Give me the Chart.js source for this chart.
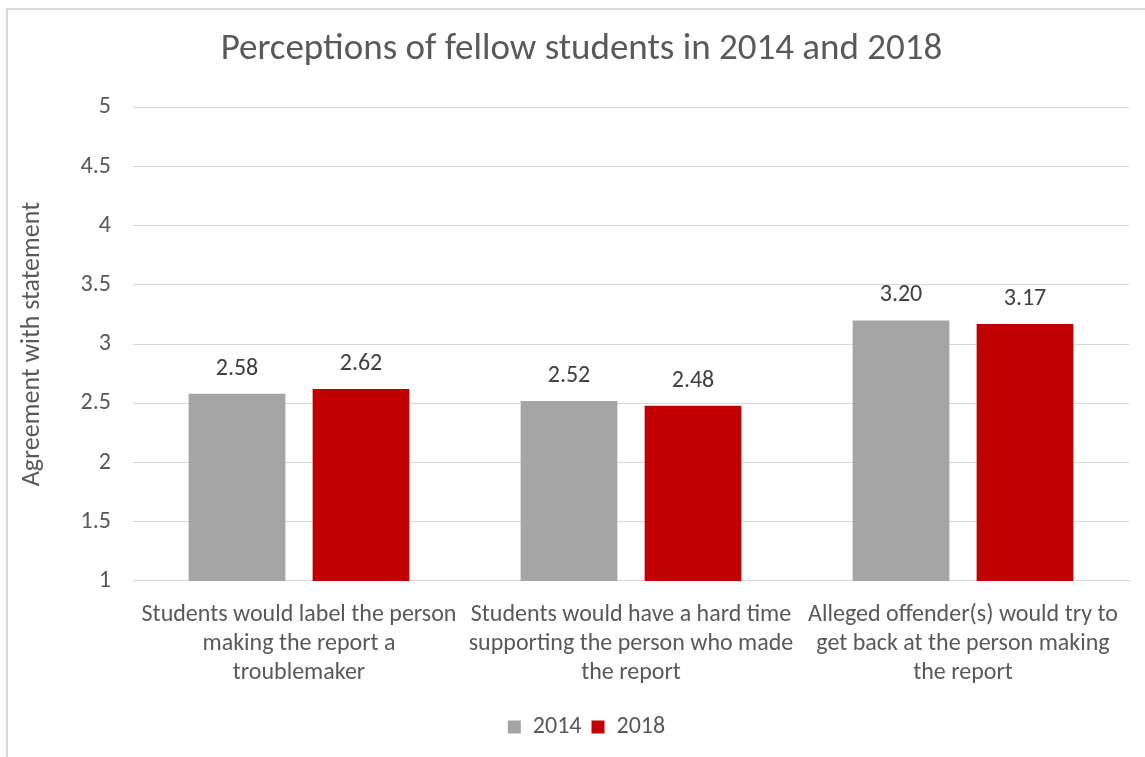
<!DOCTYPE html>
<html>
<head>
<meta charset="utf-8">
<script src="https://cdn.jsdelivr.net/npm/chart.js@4.4.1/dist/chart.umd.min.js"></script>
<style>
  html, body { margin: 0; padding: 0; background: #fff; overflow: hidden; }
  #frame { position: absolute; left: 6px; top: 8px; width: 1200px; height: 800px; border: 2px solid #d9d9d9; box-sizing: border-box; }
  #wrap { position: absolute; left: 0; top: 0; width: 1145px; height: 757px; }
</style>
</head>
<body>
<div id="frame"></div>
<div id="wrap"><canvas id="c" width="1145" height="757"></canvas></div>
<script>
const categories = [
  ["Students would label the person", "making the report a", "troublemaker"],
  ["Students would have a hard time", "supporting the person who made", "the report"],
  ["Alleged offender(s) would try to", "get back at the person making", "the report"]
];
const seriesNames = ["2014", "2018"];
const values2014 = [2.58, 2.52, 3.20];
const values2018 = [2.62, 2.48, 3.17];
const yTicks = [1, 1.5, 2, 2.5, 3, 3.5, 4, 4.5, 5];

const FONT = "Carlito, Calibri, Lato, 'Open Sans', sans-serif";

const dataLabels = {
  id: 'dataLabels',
  afterDatasetsDraw(chart) {
    const ctx = chart.ctx;
    ctx.save();
    ctx.font = "24px " + FONT;
    ctx.fillStyle = "#404040";
    ctx.textAlign = "center";
    ctx.textBaseline = "middle";
    chart.data.datasets.forEach((ds, i) => {
      const meta = chart.getDatasetMeta(i);
      meta.data.forEach((bar, j) => {
        ctx.fillText(ds.data[j].toFixed(2), bar.x, bar.y - 25);
      });
    });
    ctx.restore();
  }
};

// Shift title and legend horizontally to match the reference centring
const shiftBlocks = {
  id: 'shiftBlocks',
  afterLayout(chart) {
    if (chart.titleBlock) { chart.titleBlock.left += 17; chart.titleBlock.right += 17; }
    if (chart.legend) { chart.legend.left += 22; chart.legend.right += 22; }
  }
};

new Chart(document.getElementById('c'), {
  type: 'bar',
  data: {
    labels: categories,
    datasets: [
      { label: seriesNames[0], data: values2014, backgroundColor: '#a5a5a5', categoryPercentage: 0.747, barPercentage: 0.78 },
      { label: seriesNames[1], data: values2018, backgroundColor: '#c00000', categoryPercentage: 0.747, barPercentage: 0.78 }
    ]
  },
  options: {
    responsive: false,
    animation: false,
    devicePixelRatio: 1,
    layout: { padding: { left: 0, right: 16, top: 0, bottom: 8 } },
    plugins: {
      title: {
        display: true,
        text: "Perceptions of fellow students in 2014 and 2018",
        color: "#595959",
        font: { family: FONT, size: 37, weight: 'normal', lineHeight: 1.2 },
        padding: { top: 28, bottom: 35 }
      },
      legend: {
        position: 'bottom',
        labels: {
          color: "#595959",
          font: { family: FONT, size: 24 },
          boxWidth: 13,
          boxHeight: 13,
          padding: 10
        }
      },
      tooltip: { enabled: false }
    },
    scales: {
      x: {
        afterFit(scale) { scale.height -= 3; },
        grid: { display: false, drawTicks: false },
        border: { display: true, color: '#d9d9d9', width: 1 },
        ticks: {
          color: "#595959",
          font: { family: FONT, size: 24, lineHeight: 1.21 },
          padding: 20,
          maxRotation: 0,
          autoSkip: false
        }
      },
      y: {
        min: 1,
        max: 5,
        afterFit(scale) { scale.width = 133; },
        afterBuildTicks(scale) { scale.ticks = yTicks.map(v => ({ value: v })); },
        grid: { color: '#d9d9d9', lineWidth: 1, drawTicks: false },
        border: { display: false },
        ticks: {
          color: "#595959",
          font: { family: FONT, size: 24 },
          padding: 22,
          callback: (v) => String(v)
        },
        title: {
          display: true,
          text: "Agreement with statement",
          color: "#595959",
          font: { family: FONT, size: 26 },
          padding: { top: 17, bottom: 0 }
        }
      }
    }
  },
  plugins: [dataLabels, shiftBlocks]
});
</script>
</body>
</html>
